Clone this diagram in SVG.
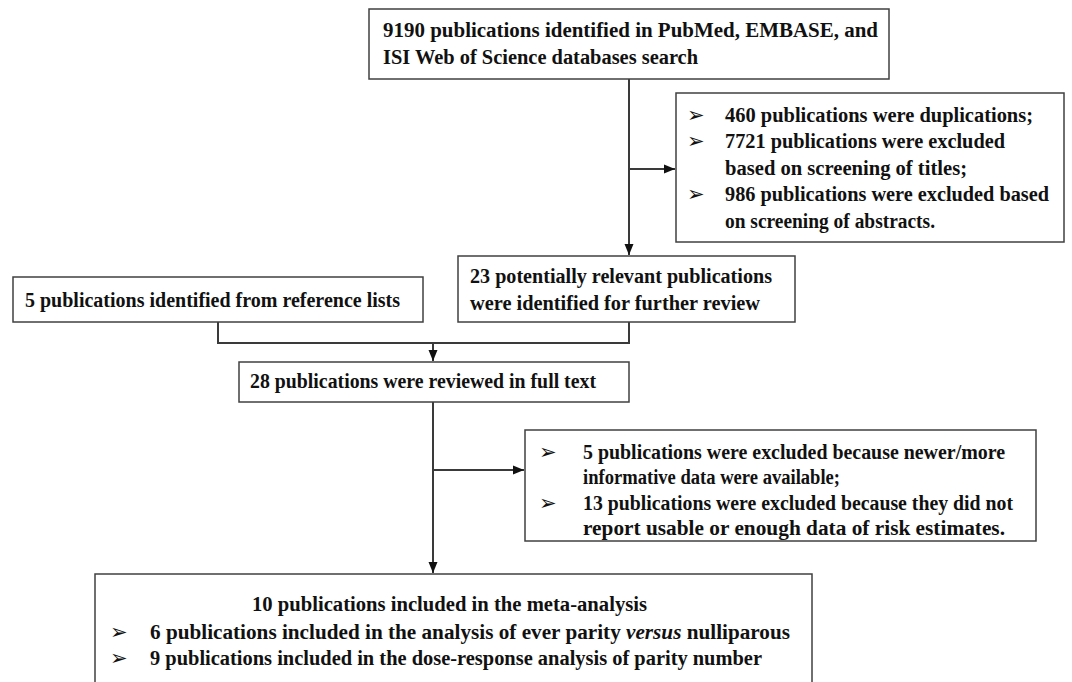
<svg xmlns="http://www.w3.org/2000/svg" width="1072" height="682" viewBox="0 0 1072 682">
<style>
.box{fill:#fff;stroke:#404040;stroke-width:1.5}
.t{font-family:"Liberation Serif","Times New Roman",serif;font-weight:bold;font-size:20px;fill:#111}
.b{font-family:"DejaVu Sans",sans-serif;font-size:21px;fill:#111}
.c{fill:none;stroke:#3a3a3a;stroke-width:2}
</style>
<defs>
<marker id="ah" markerUnits="userSpaceOnUse" markerWidth="12" markerHeight="12" refX="11" refY="6" orient="auto">
<path d="M0,1.5 L11,6 L0,10.5 Z" fill="#111"/>
</marker>
</defs>
<rect width="1072" height="682" fill="#fff"/>
<g id="connectors">
<path class="c" d="M629,79 V255" marker-end="url(#ah)"/>
<path class="c" d="M629,169 H675" marker-end="url(#ah)"/>
<path class="c" d="M218,322 V343 H629 V322"/>
<path class="c" d="M433,343 V361" marker-end="url(#ah)"/>
<path class="c" d="M433,402 V573" marker-end="url(#ah)"/>
<path class="c" d="M433,470 H524" marker-end="url(#ah)"/>
</g>
<g id="n1">
<rect class="box" x="369" y="9" width="520" height="70"/>
<text class="t" x="383" y="37" textLength="495" lengthAdjust="spacingAndGlyphs">9190 publications identified in PubMed, EMBASE, and</text>
<text class="t" x="383" y="64" textLength="315" lengthAdjust="spacingAndGlyphs">ISI Web of Science databases search</text>
</g>
<g id="n2">
<rect class="box" x="676" y="93" width="388" height="149"/>
<text class="b" x="687" y="122">➢</text>
<text class="t" x="725" y="122" textLength="308" lengthAdjust="spacingAndGlyphs">460 publications were duplications;</text>
<text class="b" x="687" y="148">➢</text>
<text class="t" x="725" y="148" textLength="280" lengthAdjust="spacingAndGlyphs">7721 publications were excluded</text>
<text class="t" x="725" y="175" textLength="242" lengthAdjust="spacingAndGlyphs">based on screening of titles;</text>
<text class="b" x="687" y="201">➢</text>
<text class="t" x="725" y="201" textLength="324" lengthAdjust="spacingAndGlyphs">986 publications were excluded based</text>
<text class="t" x="725" y="228" textLength="210" lengthAdjust="spacingAndGlyphs">on screening of abstracts.</text>
</g>
<g id="n3">
<rect class="box" x="13" y="277" width="410" height="45"/>
<text class="t" x="25" y="307" textLength="375" lengthAdjust="spacingAndGlyphs">5 publications identified from reference lists</text>
</g>
<g id="n4">
<rect class="box" x="458" y="256" width="337" height="66"/>
<text class="t" x="470" y="283" textLength="302" lengthAdjust="spacingAndGlyphs">23 potentially relevant publications</text>
<text class="t" x="470" y="310" textLength="290" lengthAdjust="spacingAndGlyphs">were identified for further review</text>
</g>
<g id="n5">
<rect class="box" x="239" y="362" width="390" height="40"/>
<text class="t" x="250" y="388" textLength="346" lengthAdjust="spacingAndGlyphs">28 publications were reviewed in full text</text>
</g>
<g id="n6">
<rect class="box" x="525" y="430" width="511" height="111"/>
<text class="b" x="539" y="459">➢</text>
<text class="t" x="583" y="459" textLength="422" lengthAdjust="spacingAndGlyphs">5 publications were excluded because newer/more</text>
<text class="t" x="583" y="484" textLength="257" lengthAdjust="spacingAndGlyphs">informative data were available;</text>
<text class="b" x="539" y="510">➢</text>
<text class="t" x="583" y="510" textLength="430" lengthAdjust="spacingAndGlyphs">13 publications were excluded because they did not</text>
<text class="t" x="583" y="535" textLength="422" lengthAdjust="spacingAndGlyphs">report usable or enough data of risk estimates.</text>
</g>
<g id="n7">
<rect class="box" x="95" y="574" width="717" height="120"/>
<text class="t" x="252" y="611" textLength="395" lengthAdjust="spacingAndGlyphs">10 publications included in the meta-analysis</text>
<text class="b" x="110" y="639">➢</text>
<text class="t" x="150" y="639" textLength="640" lengthAdjust="spacingAndGlyphs">6 publications included in the analysis of ever parity <tspan font-style="italic">versus</tspan> nulliparous</text>
<text class="b" x="110" y="665">➢</text>
<text class="t" x="150" y="665" textLength="612" lengthAdjust="spacingAndGlyphs">9 publications included in the dose-response analysis of parity number</text>
</g>
</svg>
